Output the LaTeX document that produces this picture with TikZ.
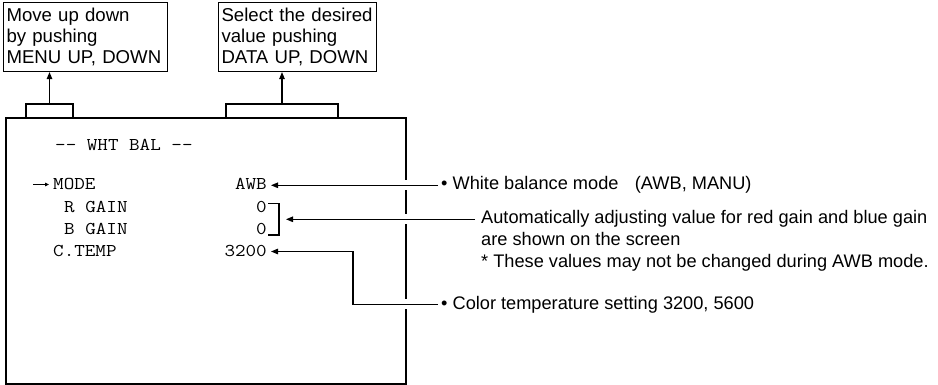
\documentclass[tikz,border=0pt]{standalone}
\usepackage{fontspec}
\setmainfont{Liberation Sans}
\newfontfamily\scrfont[FakeStretch=1.14]{Latin Modern Mono}
\usetikzlibrary{arrows.meta}
\begin{document}
\begin{tikzpicture}[x=1pt,y=-1pt,
  thinline/.style={line width=1.1pt},
  lbl/.style={font=\fontsize{18.2}{21}\selectfont, inner sep=0pt, anchor=base west},
  scr/.style={font=\scrfont\fontsize{18}{18}\selectfont, inner sep=0pt},
  tip/.style={thinline, -{Triangle[length=7pt,width=5.5pt]}},
  smalltip/.style={line width=0.9pt, -{Triangle[length=4pt,width=3.5pt]}},
  topbox/.style={draw, line width=1.1pt, align=left, font=\fontsize{18.6}{21}\selectfont,
    inner xsep=3pt, inner ysep=0pt, minimum height=69pt, anchor=north west},
  gap/.style={white, line width=10pt}
]
\useasboundingbox (0,0) rectangle (938,385);

% top boxes
\node[topbox, text width=158pt] (menu) at (3,2) {\mbox{Move up down}\\\mbox{by pushing}\\\mbox{MENU UP, DOWN}};
\node[topbox, text width=152pt] (data) at (218,2) {\mbox{Select the desired}\\\mbox{value pushing}\\\mbox{DATA UP, DOWN}};

% screen
\node[draw, line width=2.4pt, minimum width=400pt, minimum height=266pt, inner sep=0pt, anchor=north west] (screen) at (5,117) {};

% brackets on top of screen
\coordinate (b1) at (49.5,104);
\coordinate (b2) at (282,104);
\draw[thinline] (26,117) -- (26,104) -- (73,104) -- (73,117);
\draw[thinline] (226,117) -- (226,104) -- (338,104) -- (338,117);
\draw[tip] (b1) -- (b1 |- menu.south);
\draw[tip] (b2) -- (b2 |- data.south);

% screen texts
\node[scr, anchor=base west] (title) at (55,151) {-{}- WHT BAL -{}-};
\node[scr, anchor=base west] (mode) at (53,190) {MODE};
\node[scr, anchor=base west] (rgain) at (64,213) {R GAIN};
\node[scr, anchor=base west] (bgain) at (64,235) {B GAIN};
\node[scr, anchor=base west] (ctemp) at (53,257) {C.TEMP};
\node[scr, anchor=base east] (awb) at (267,190) {AWB};
\node[scr, anchor=base east] (r0) at (267,213) {0};
\node[scr, anchor=base east] (b0) at (267,235) {0};
\node[scr, anchor=base east] (ct) at (267,257) {3200};
\coordinate (cursor) at (33,0);
\draw[smalltip] (cursor |- mode.west) -- ([xshift=-4pt]mode.west);

% labels
\node[lbl] (wb) at (441,190) {• White balance mode\hspace{0.9em}(AWB, MANU)};
\node[lbl] (auto1) at (481,224) {Automatically adjusting value for red gain and blue gain};
\node[lbl] (auto2) at (481,246) {are shown on the screen};
\node[lbl] (auto3) at (481,267) {* These values may not be changed during AWB mode.};
\node[lbl] (cl) at (441,309) {• Color temperature setting 3200, 5600};

% gaps in the screen edge where connectors cross
\draw[gap] ([xshift=-5pt]wb.west -| screen.east) -- ([xshift=5pt]wb.west -| screen.east);
\draw[gap] ([xshift=-5pt]auto1.west -| screen.east) -- ([xshift=5pt]auto1.west -| screen.east);
\draw[gap] ([xshift=-5pt]cl.west -| screen.east) -- ([xshift=5pt]cl.west -| screen.east);

% connectors
\draw[tip] ([xshift=-3pt]wb.west) -- ([xshift=4pt]wb.west -| awb.east);
\coordinate (brk) at (279,0);
\draw[thinline] ([xshift=1pt]r0.north east) ++(0,2) coordinate (bt) -- (bt -| brk) -- (brk |- b0.base) -- ([xshift=1pt]b0.base east);
\draw[tip] ([xshift=-6pt]auto1.west) -- ([xshift=7pt]auto1.west -| brk);
\coordinate (turn) at (353,0);
\draw[tip] ([xshift=-3pt]cl.west) -- (cl.west -| turn) -- (turn |- ct.east) -- ([xshift=4pt]ct.east);
\end{tikzpicture}
\end{document}
